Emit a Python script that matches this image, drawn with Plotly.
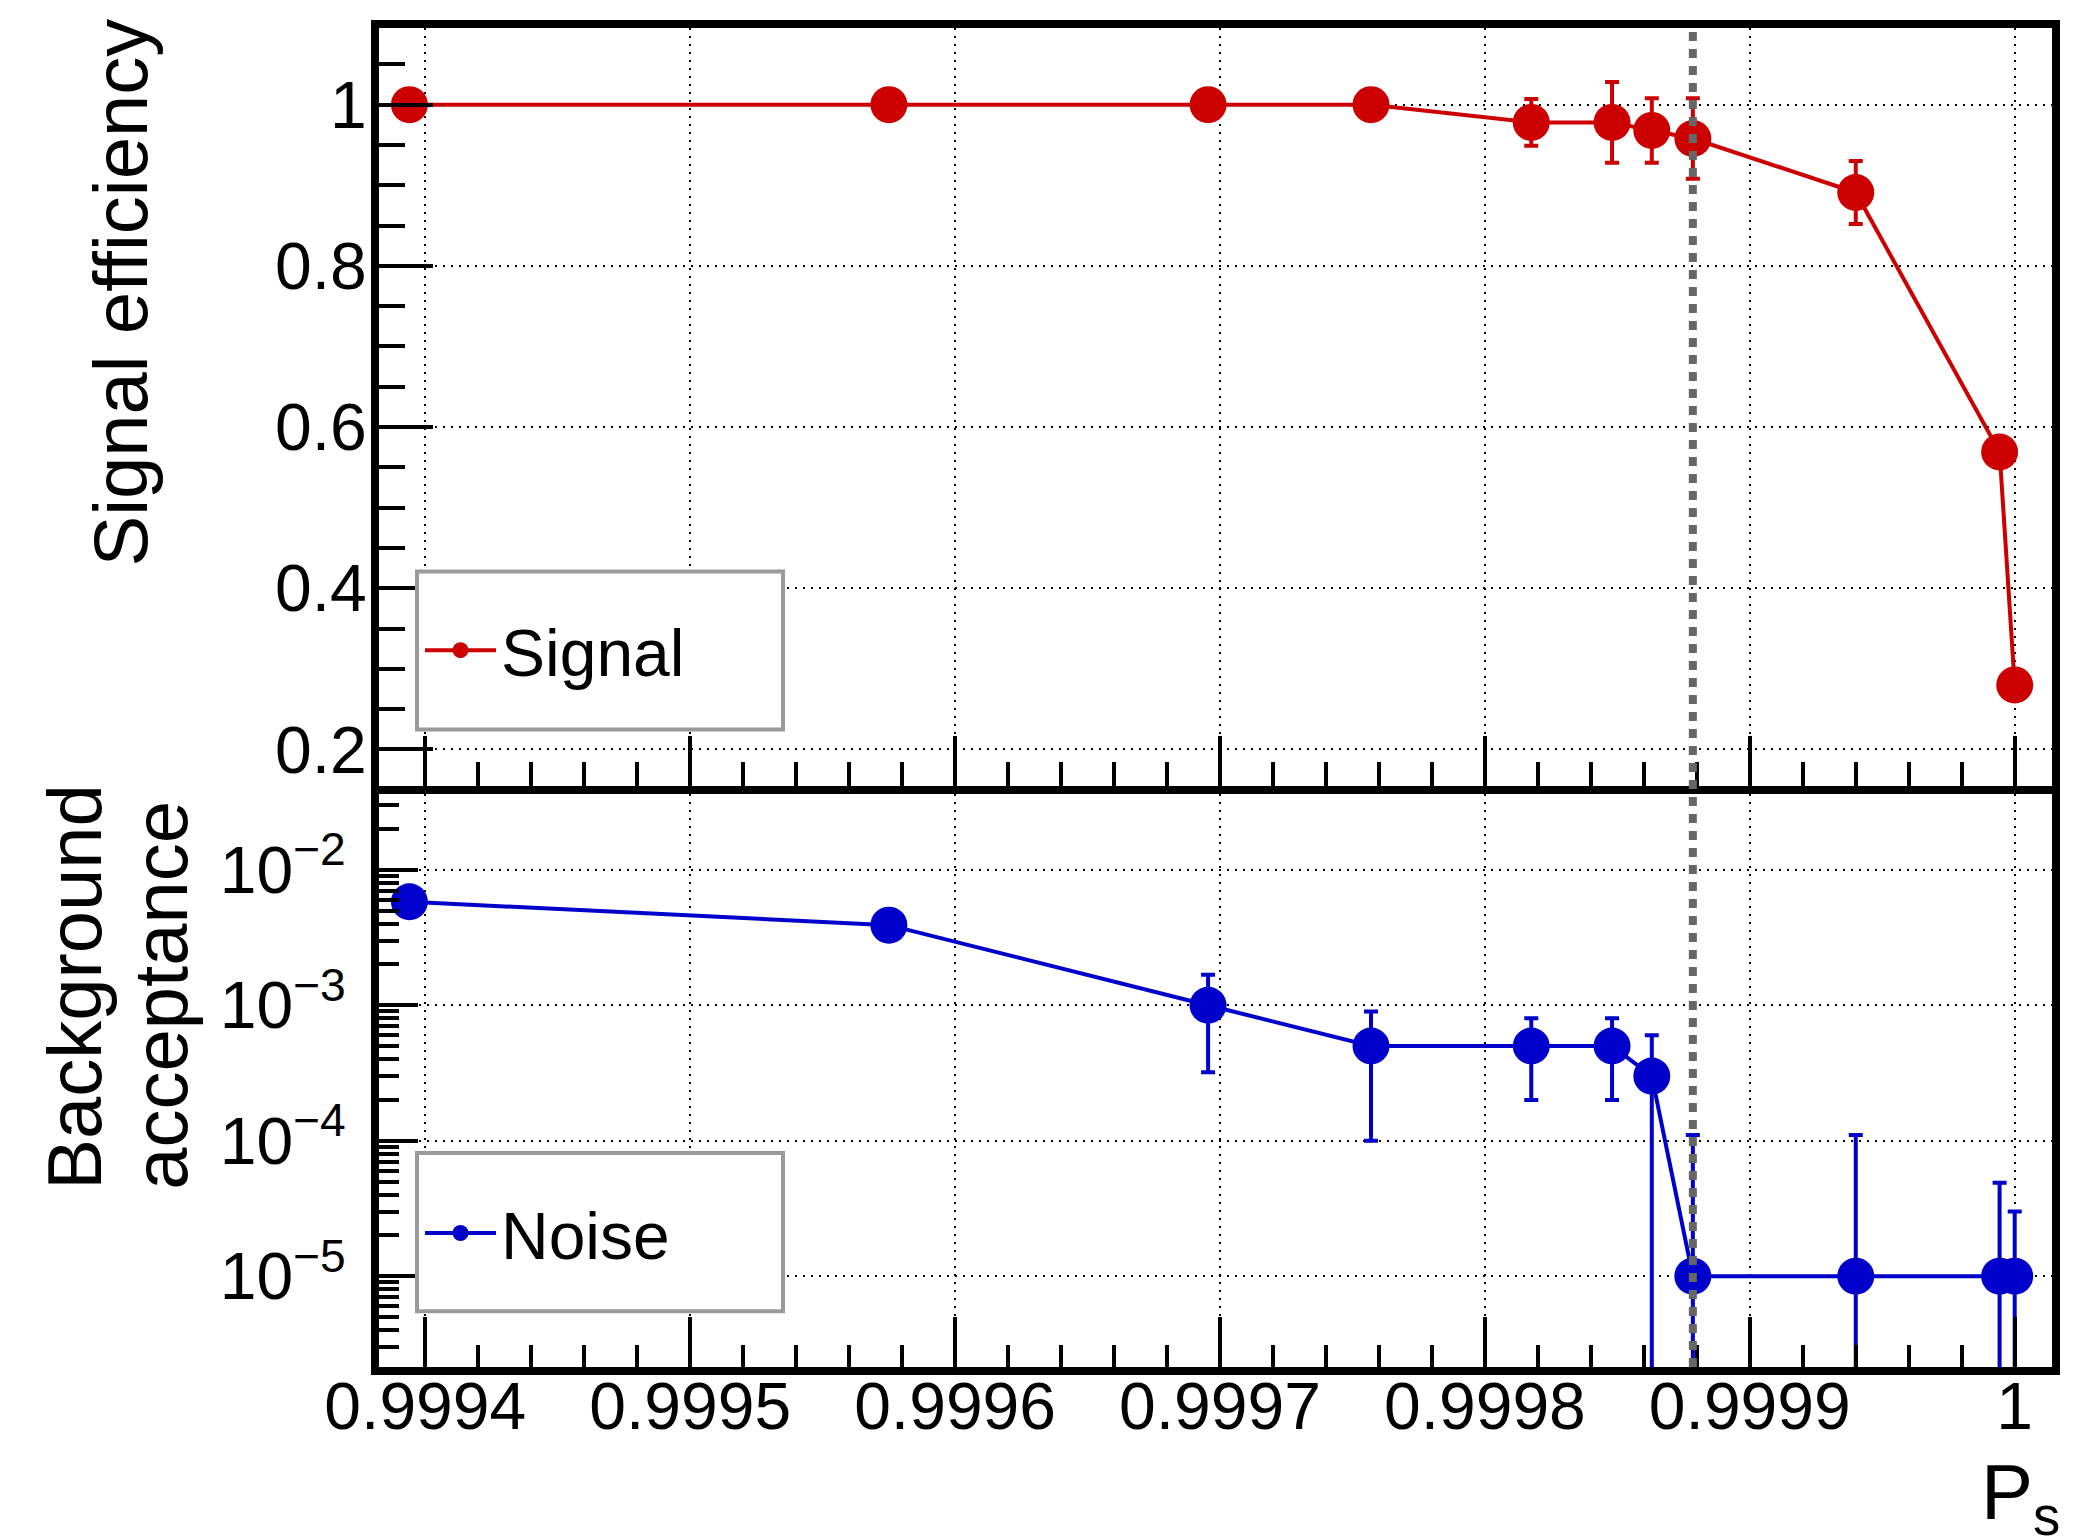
import plotly.graph_objects as go

# scanned cut value P_s and the chosen working point (dashed line)
p_s = [0.999394, 0.999575, 0.9996955, 0.999757, 0.9998175, 0.999848,
       0.999863, 0.9998785, 0.99994, 0.9999943, 1.0]
p_cut = 0.9998785

# signal efficiency (upper pad)
sig_eff = [1.0, 1.0, 1.0, 1.0, 0.978, 0.978, 0.968, 0.958, 0.891, 0.569, 0.280]
sig_err = [0, 0, 0, 0, 0.029, 0.05, 0.04, 0.05, 0.039, 0, 0]

# background acceptance (lower pad, log)
bkg_acc = [5.8e-3, 3.9e-3, 1.0e-3, 5e-4, 5e-4, 5e-4, 3e-4, 1e-5, 1e-5, 1e-5, 1e-5]
bkg_err = [0, 0, 6.8e-4, 4e-4, 3e-4, 3e-4, 3e-4, 1e-4, 1e-4, 3.9e-5, 2e-5]

x_ticks = [0.9994, 0.9995, 0.9996, 0.9997, 0.9998, 0.9999, 1.0]
x_labels = ["0.9994", "0.9995", "0.9996", "0.9997", "0.9998", "0.9999", "1"]
eff_ticks = [0.2, 0.4, 0.6, 0.8, 1.0]
eff_labels = ["0.2", "0.4", "0.6", "0.8", "1"]
acc_ticks = [1e-5, 1e-4, 1e-3, 1e-2]
acc_labels = ["10<sup>\u22125</sup>", "10<sup>\u22124</sup>",
              "10<sup>\u22123</sup>", "10<sup>\u22122</sup>"]
acc_minor = [k * 10.0 ** e for e in range(-6, -1) for k in range(2, 10)]

RED = "#cc0000"
BLUE = "#0000cc"
FONT = "Liberation Sans, Arial, sans-serif"

fig = go.Figure()

fig.add_trace(go.Scatter(
    x=p_s, y=sig_eff, name="Signal", mode="lines+markers",
    line=dict(color=RED, width=4),
    marker=dict(color=RED, size=37),
    error_y=dict(type="data", array=sig_err, color=RED, thickness=4, width=7),
    xaxis="x", yaxis="y", legend="legend",
))
fig.add_trace(go.Scatter(
    x=p_s, y=bkg_acc, name="Noise", mode="lines+markers",
    line=dict(color=BLUE, width=4),
    marker=dict(color=BLUE, size=37),
    error_y=dict(type="data", array=bkg_err, color=BLUE, thickness=4, width=7),
    xaxis="x2", yaxis="y2", legend="legend2",
))

grid = dict(showgrid=True, gridcolor="black", gridwidth=2, griddash="2px,6px",
            zeroline=False, showline=True, linecolor="black", linewidth=8,
            mirror=True, ticks="inside", tickcolor="black", tickwidth=4)

x_range = [0.99938252, 1.00001408]

# page body has an 8px margin, so the figure is 8px smaller than the window
fig.update_layout(
    width=2076, height=1531,
    margin=dict(l=371, r=32, t=14, b=172),
    paper_bgcolor="white", plot_bgcolor="white",
    font=dict(family=FONT, size=66, color="black"),
    showlegend=True,
    xaxis=dict(grid, domain=[0, 1], anchor="y", range=x_range,
               tickvals=x_ticks, showticklabels=False, ticklen=50,
               minor=dict(ticks="inside", dtick=0.00002, tick0=0.9994,
                          ticklen=24, tickwidth=4, tickcolor="black")),
    yaxis=dict(grid, domain=[0.43420, 1], anchor="x", range=[0.15513, 1.0951],
               tickvals=eff_ticks, ticktext=eff_labels, ticklen=54,
               tickfont=dict(size=66), ticklabelstandoff=-9,
               minor=dict(ticks="inside", dtick=0.05, tick0=0.0,
                          ticklen=26, tickwidth=4, tickcolor="black")),
    xaxis2=dict(grid, domain=[0, 1], anchor="y2", range=x_range, matches="x",
                tickvals=x_ticks, ticktext=x_labels, ticklen=50,
                tickfont=dict(size=66), ticklabelstandoff=-25,
                minor=dict(ticks="inside", dtick=0.00002, tick0=0.9994,
                           ticklen=22, tickwidth=4, tickcolor="black")),
    yaxis2=dict(grid, domain=[0, 0.42825], anchor="x2", type="log",
                range=[-5.6701, -1.4379],
                tickvals=acc_ticks, ticktext=acc_labels, ticklen=39,
                tickfont=dict(size=66), ticklabelstandoff=12,
                minor=dict(ticks="inside", tickvals=acc_minor,
                           ticklen=20, tickwidth=4, tickcolor="black")),
    legend=dict(x=0.0245, y=0.5353, xanchor="left", yanchor="middle",
                bgcolor="rgba(0,0,0,0)", borderwidth=0, itemwidth=71,
                font=dict(size=66)),
    legend2=dict(x=0.0245, y=0.1, xanchor="left", yanchor="middle",
                 bgcolor="rgba(0,0,0,0)", borderwidth=0, itemwidth=71,
                 font=dict(size=66)),
)

# legend frames (ROOT style boxes)
for y0, y1 in [(0.4761, 0.5941), (0.0416, 0.1598)]:
    fig.add_shape(type="rect", xref="paper", yref="paper",
                  x0=0.0227, x1=0.2415, y0=y0, y1=y1, layer="above",
                  line=dict(color="#9a9a9a", width=4), fillcolor="white")

# working point
fig.add_shape(type="line", xref="x", yref="paper", x0=p_cut, x1=p_cut,
              y0=0, y1=1, layer="above",
              line=dict(color="#666666", width=8, dash="9px,8px"))

# axis titles
fig.add_annotation(text="Signal efficiency", xref="paper", yref="paper",
                   x=-0.1551, y=1.0, yshift=11, xanchor="center", yanchor="top",
                   textangle=-90, showarrow=False, font=dict(size=76))
fig.add_annotation(text="Background", xref="paper", yref="paper",
                   x=-0.1820, y=0.1305, xanchor="center", yanchor="bottom",
                   textangle=-90, showarrow=False, font=dict(size=76))
fig.add_annotation(text="acceptance", xref="paper", yref="paper",
                   x=-0.1303, y=0.1305, xanchor="center", yanchor="bottom",
                   textangle=-90, showarrow=False, font=dict(size=76))
fig.add_annotation(text="P<sub>s</sub>", xref="paper", yref="paper",
                   x=1.0, y=-0.1279, xshift=10, yshift=-11,
                   xanchor="right", yanchor="bottom",
                   showarrow=False, font=dict(size=78))

fig.write_html("out.html")
